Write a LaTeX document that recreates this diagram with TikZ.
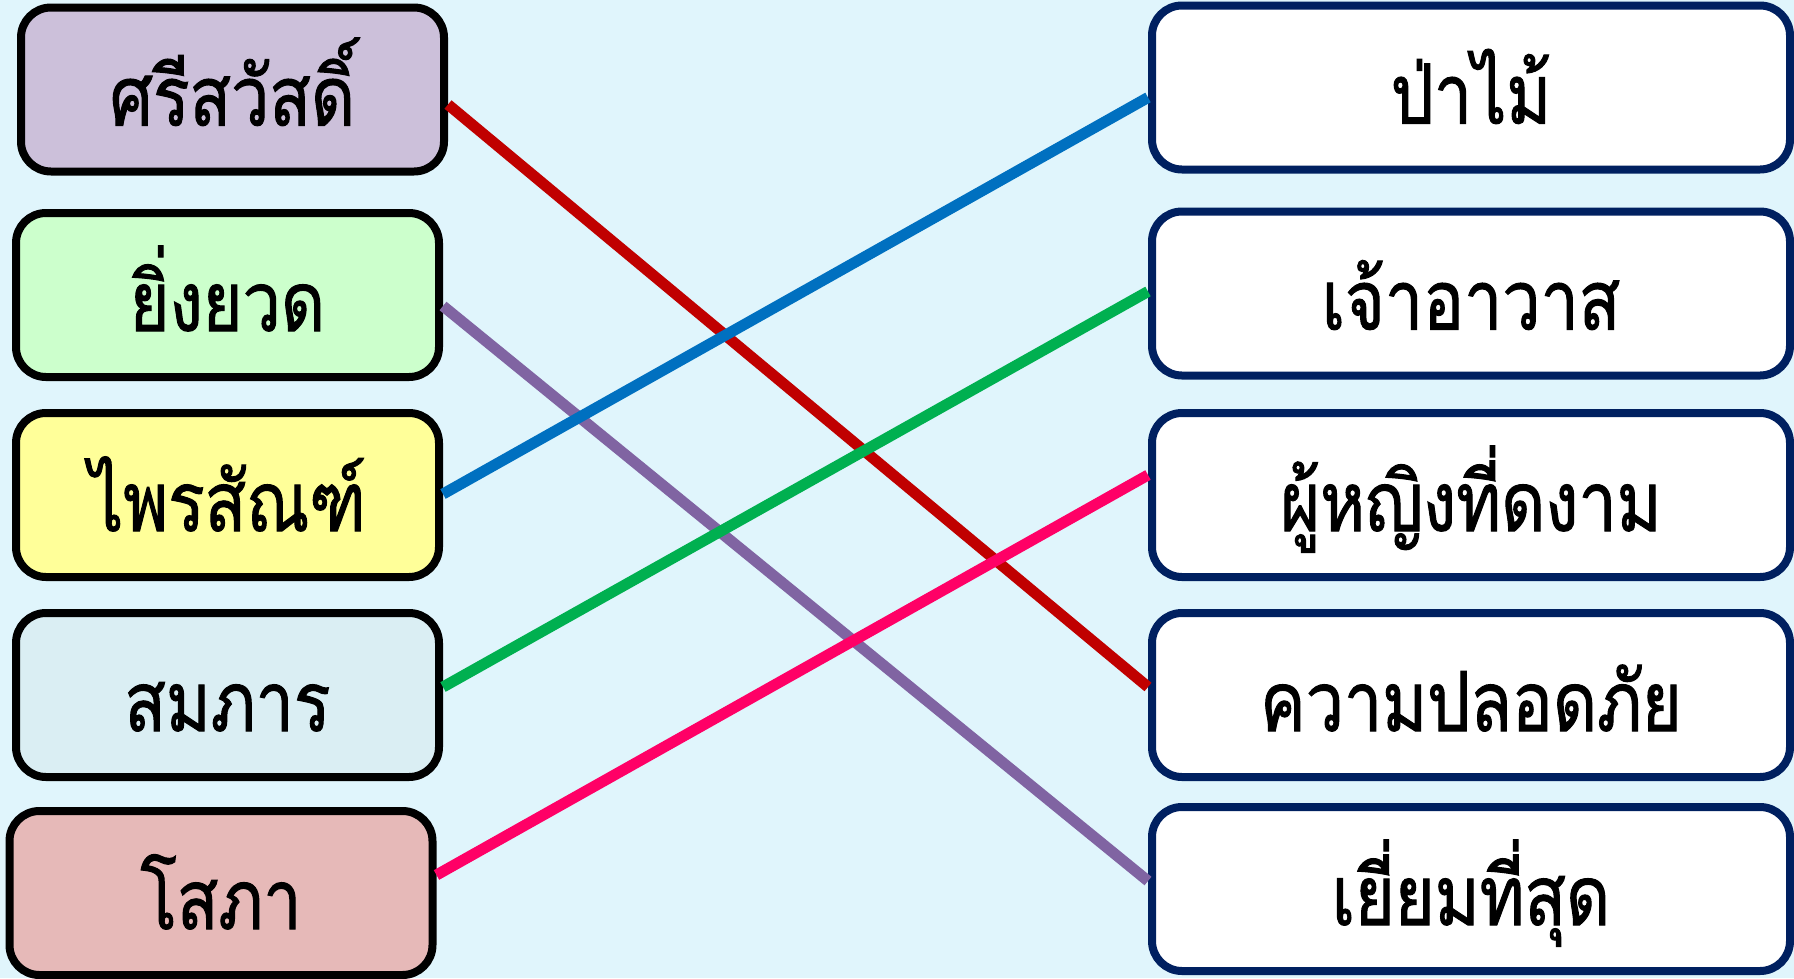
\documentclass[tikz,border=0pt]{standalone}
\usepackage{fontspec}
\newfontfamily\thaifont[Script=Thai,FakeStretch=0.82,FakeBold=1.2]{Loma}
\definecolor{bgblue}{HTML}{E0F5FC}
\definecolor{navy}{HTML}{002060}
\definecolor{fA}{HTML}{CCC0DA}
\definecolor{fB}{HTML}{CCFFCC}
\definecolor{fC}{HTML}{FFFF99}
\definecolor{fD}{HTML}{DAEEF3}
\definecolor{fE}{HTML}{E6B9B8}
\definecolor{cRed}{HTML}{C00000}
\definecolor{cPurple}{HTML}{8064A2}
\definecolor{cBlue}{HTML}{0070C0}
\definecolor{cGreen}{HTML}{00B050}
\definecolor{cPink}{HTML}{FF0066}
\begin{document}
\begin{tikzpicture}[x=1pt,y=-1pt,
  box/.style={rounded corners=30pt, line width=8pt, inner sep=0pt,
    minimum height=164pt, text height=72pt, text depth=0pt,
    font=\thaifont\fontsize{83}{96}\selectfont},
  lbox/.style={box, draw=black, minimum width=423pt},
  rbox/.style={box, draw=navy, fill=white, minimum width=638pt},
  link/.style={line width=11pt}]
\useasboundingbox (0,0) rectangle (1794,978);
\fill[bgblue] (0,0) rectangle (1794,978);
% boxes
\node[lbox, fill=fA] (l1) at (232.5,89.5) {ศรีสวัสดิ์};
\node[lbox, fill=fB] (l2) at (227.5,295) {ยิ่งยวด};
\node[lbox, fill=fC] (l3) at (227.5,495) {ไพรสัณฑ์};
\node[lbox, fill=fD] (l4) at (227.5,695) {สมภาร};
\node[lbox, fill=fE] (l5) at (221,893) {โสภา};
\node[rbox] (r1) at (1471,87.5) {ป่าไม้};
\node[rbox] (r2) at (1471,293.5) {เจ้าอาวาส};
\node[rbox] (r3) at (1471,495) {ผู้หญิงที่ดงาม};
\node[rbox] (r4) at (1471,695) {ความปลอดภัย};
\node[rbox] (r5) at (1471,889) {เยี่ยมที่สุด};
% links
\draw[link, cRed] ([yshift=-15pt]l1.east) -- ([yshift=8pt]r4.west);
\draw[link, cPurple] ([yshift=-11pt]l2.east) -- ([yshift=8pt]r5.west);
\draw[link, cBlue] ([yshift=1pt]l3.east) -- ([yshift=-10pt]r1.west);
\draw[link, cGreen] ([yshift=8pt]l4.east) -- ([yshift=2pt]r2.west);
\draw[link, cPink] ([yshift=18pt]l5.east) -- ([yshift=20pt]r3.west);
\end{tikzpicture}
\end{document}
